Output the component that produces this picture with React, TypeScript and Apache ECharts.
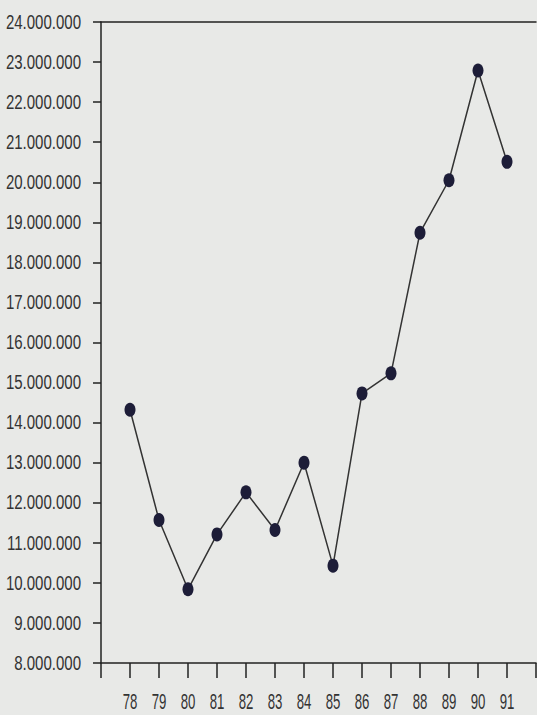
import React, { useEffect, useRef } from "react";
import * as echarts from "echarts";

const years = [78, 79, 80, 81, 82, 83, 84, 85, 86, 87, 88, 89, 90, 91];
const values = [
  14320000, 11570000, 9840000, 11210000, 12260000, 11320000, 13000000,
  10430000, 14730000, 15230000, 18740000, 20050000, 22790000, 20510000,
];
const yMin = 8000000;
const yMax = 24000000;
const yStep = 1000000;
const xMin = 77;
const xMax = 92;

const fmt = (v: number) =>
  String(Math.round(v)).replace(/\B(?=(\d{3})+(?!\d))/g, ".");

const FONT = "'Liberation Sans', Arial, sans-serif";

export default function App() {
  const ref = useRef<HTMLDivElement>(null);
  useEffect(() => {
    if (!ref.current) return;
    const chart = echarts.init(ref.current, undefined, { renderer: "svg" });
    chart.setOption({
      animation: false,
      backgroundColor: "#e8e9e7",
      grid: {
        left: 101,
        top: 22,
        bottom: 52,
        right: 1,
        containLabel: false,
        outerBoundsMode: "none",
      },
      xAxis: [
        {
          type: "value",
          min: xMin,
          max: xMax,
          interval: 1,
          axisLine: { show: true, onZero: false, lineStyle: { color: "#222", width: 1.5 } },
          axisTick: { show: true, inside: false, length: 15, lineStyle: { color: "#222", width: 1.5 } },
          splitLine: { show: false },
          axisLabel: { show: false },
        },
        {
          type: "value",
          position: "top",
          min: xMin,
          max: xMax,
          axisLine: { show: true, lineStyle: { color: "#222", width: 1.5 } },
          axisTick: { show: false },
          axisLabel: { show: false },
          splitLine: { show: false },
        },
      ],
      yAxis: {
        type: "value",
        min: yMin,
        max: yMax,
        interval: yStep,
        axisLine: { show: true, lineStyle: { color: "#222", width: 1.5 } },
        axisTick: { show: true, inside: false, length: 8, lineStyle: { color: "#222", width: 1.5 } },
        splitLine: { show: false },
        axisLabel: { show: false },
      },
      series: [
        {
          type: "line",
          data: years.map((y, i) => [y, values[i]]),
          symbol: "circle",
          symbolSize: [11, 14],
          lineStyle: { color: "#333", width: 1.5 },
          itemStyle: { color: "#1d1d38" },
        },
      ],
    });

    const labels: any[] = [];
    for (let v = yMin; v <= yMax; v += yStep) {
      const p = chart.convertToPixel({ gridIndex: 0 }, [xMin, v]) as number[];
      labels.push({
        type: "text",
        x: p[0] - 20,
        y: p[1],
        scaleX: 0.77,
        style: {
          text: fmt(v),
          x: 0,
          y: 0,
          align: "right",
          verticalAlign: "middle",
          fontFamily: FONT,
          fontSize: 19.5,
          fill: "#333",
        },
      });
    }
    years.forEach((yr) => {
      const p = chart.convertToPixel({ gridIndex: 0 }, [yr, yMin]) as number[];
      labels.push({
        type: "text",
        x: p[0],
        y: p[1] + 39,
        scaleX: 0.6,
        style: {
          text: String(yr),
          x: 0,
          y: 0,
          align: "center",
          verticalAlign: "middle",
          fontFamily: FONT,
          fontSize: 22,
          fill: "#333",
        },
      });
    });
    chart.setOption({ graphic: labels });
    return () => chart.dispose();
  }, []);
  return (
    <div
      ref={ref}
      style={{ position: "absolute", left: 0, top: 0, width: 537, height: 715 }}
    />
  );
}
